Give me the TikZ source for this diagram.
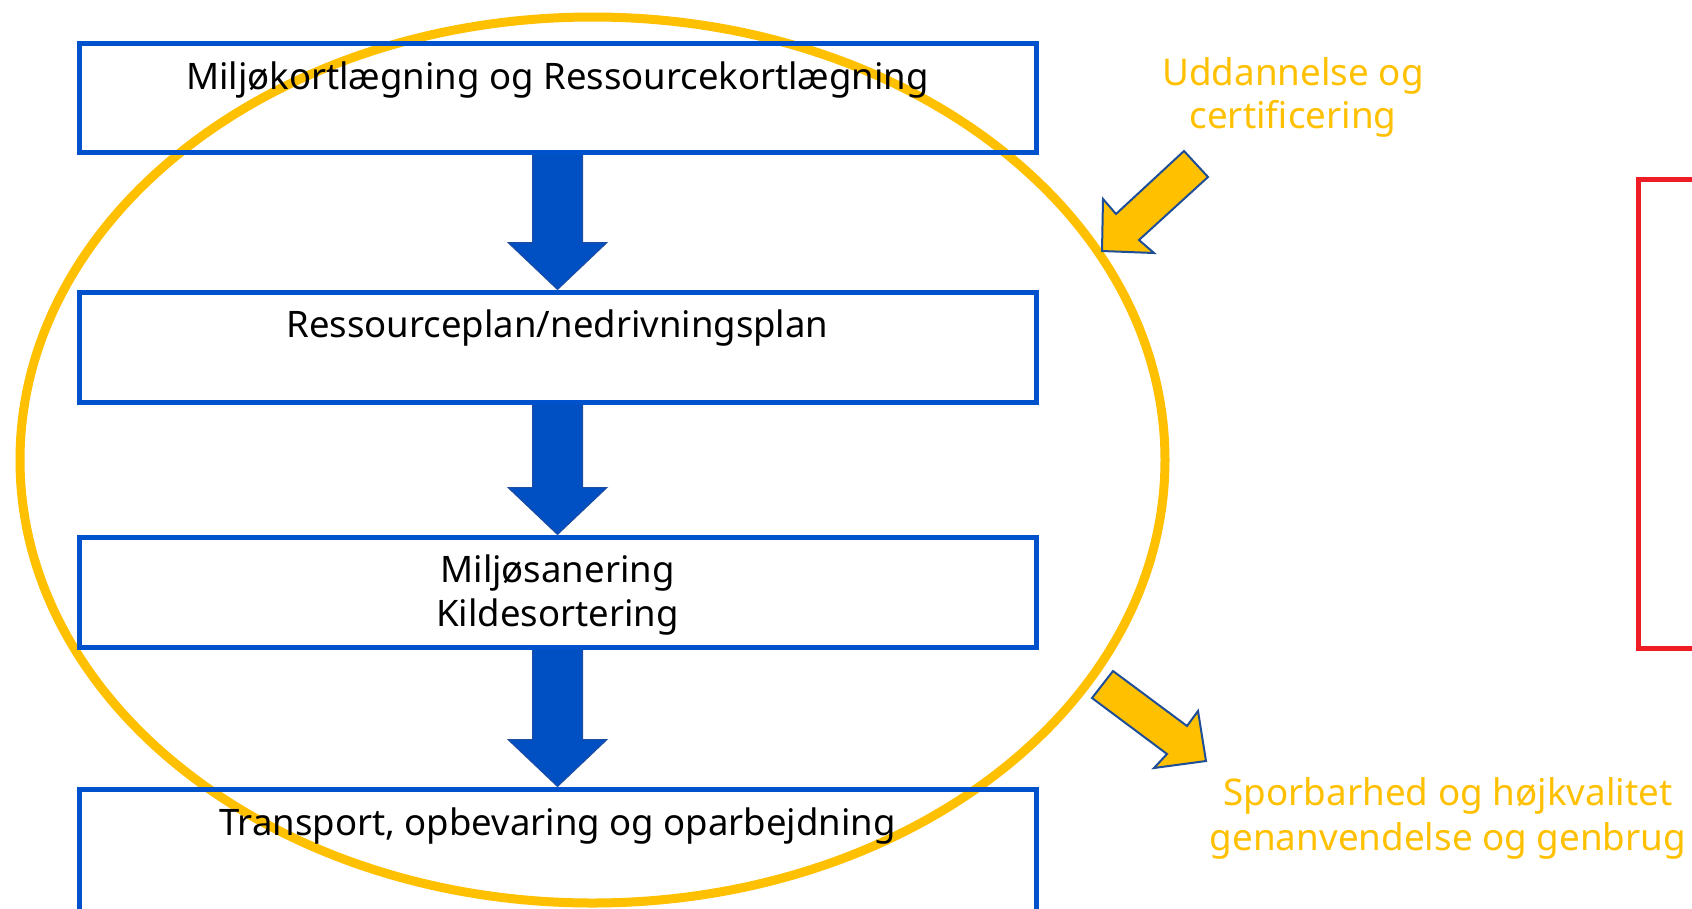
\documentclass[tikz,border=0pt]{standalone}
\usepackage{fontspec}
\setmainfont{Noto Sans}
\usetikzlibrary{calc}
\definecolor{boxblue}{HTML}{0052CC}
\definecolor{arrowblue}{HTML}{0050C3}
\definecolor{arrowedge}{HTML}{1D4CA0}
\definecolor{gold}{HTML}{FFC000}
\definecolor{outlineblue}{HTML}{1F4E99}
\definecolor{redbox}{HTML}{EE1C25}
\begin{document}
\begin{tikzpicture}[x=1pt,y=-1pt,
 flowbox/.style={draw=boxblue,line width=5pt,minimum width=957pt,inner sep=0pt},
 boxtext/.style={font=\fontsize{36.5}{44}\selectfont,align=center,text=black,inner sep=0pt},
 yellowtext/.style={font=\fontsize{36.8}{43}\selectfont,align=center,text=gold,inner sep=0pt},
 blockarrow/.style={fill=arrowblue,draw=arrowedge,line width=1pt,line join=miter},
 goldarrow/.style={fill=gold,draw=outlineblue,line width=2pt,line join=miter},
 ring/.style={draw=gold,line width=9pt},
 redframe/.style={draw=redbox,line width=5pt,inner sep=0pt}]
\useasboundingbox (0,0) rectangle (1692,908);
\clip (0,0) rectangle (1692,908);
\fill[white] (0,0) rectangle (1692,908);
% ring
\draw[ring] (592.5,460) ellipse [x radius=572.5pt, y radius=443pt];
% boxes
\node[flowbox,minimum height=109pt] (b1) at (557.5,97.5) {};
\node[flowbox,minimum height=110pt] (b2) at (557.5,347) {};
\node[flowbox,minimum height=110pt] (b3) at (557.5,592) {};
\node[flowbox,minimum height=211pt] (b4) at (557.5,894.5) {};
% block arrows
\foreach \a/\b in {b1/b2,b2/b3,b3/b4}{
  \filldraw[blockarrow] ($(\a.south)+(-25,0)$) -- ($(\a.south)+(25,0)$)
    -- ($(\b.north)+(25,-47)$) -- ($(\b.north)+(49.5,-47)$) -- (\b.north)
    -- ($(\b.north)+(-49.5,-47)$) -- ($(\b.north)+(-25,-47)$) -- cycle;
}
% redraw box borders on top
\node[flowbox,minimum height=109pt] at (b1) {};
\node[flowbox,minimum height=110pt] at (b2) {};
\node[flowbox,minimum height=110pt] at (b3) {};
\node[flowbox,minimum height=211pt] at (b4) {};
% texts
\node[boxtext] (t1) at ($(b1.north)+(0,39.5)$) {Miljøkortlægning og Ressourcekortlægning};
\node[boxtext] (t2) at ($(b2.north)+(0,39)$) {Ressourceplan/nedrivningsplan};
\node[boxtext] (t3) at ($(b3.north)+(0,61)$) {Miljøsanering\\Kildesortering};
\node[boxtext] (t4) at ($(b4.north)+(0,39)$) {Transport, opbevaring og oparbejdning};
% red frame
\node[redframe,minimum width=140pt,minimum height=468.5pt] (rb) at (1708,413.75) {};
% gold arrows
\filldraw[goldarrow] (1184,151) -- (1116,214) -- (1103,199) -- (1102,251) -- (1154,253) -- (1139,240) -- (1208,177) -- cycle;
\filldraw[goldarrow] (1113,671) -- (1187,726) -- (1198,711) -- (1206,761) -- (1154,768) -- (1167,754) -- (1092,698) -- cycle;
% yellow labels
\node[yellowtext] (u) at (1293,97) {Uddannelse og\\certificering};
\node[yellowtext,font=\fontsize{36.8}{45}\selectfont] (s) at (1448,818) {Sporbarhed og højkvalitet\\genanvendelse og genbrug};
\end{tikzpicture}
\end{document}
